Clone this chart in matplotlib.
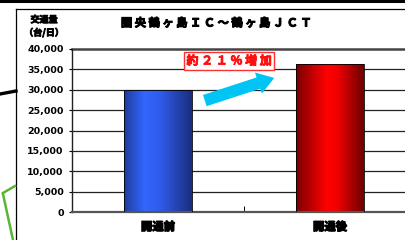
import numpy as np
import matplotlib
matplotlib.use("Agg")
import matplotlib.pyplot as plt
import matplotlib.patheffects as pe
from matplotlib.colors import LinearSegmentedColormap
from matplotlib.lines import Line2D

plt.rcParams['font.family'] = ['Noto Sans CJK JP', 'DejaVu Sans']

# data
categories = ['開通前', '開通後']
traffic = [29900, 36200]          # 台/日
y_ticks = [0, 5000, 10000, 15000, 20000, 25000, 30000, 35000, 40000]
title = '圏央鶴ヶ島ＩＣ～鶴ヶ島ＪＣＴ'
note = '約２１％増加'

fig = plt.figure(figsize=(4.06, 2.4), dpi=100)

# fake heavy weight for the CJK font
def heavy(c='black', w=0.6):
    return [pe.withStroke(linewidth=w, foreground=c)]

# slide decorations around the chart (figure pixel coords -> fraction)
W, H = 406, 240
def fx(p): return p / W
def fy(p): return 1 - p / H

fig.add_artist(Line2D([0, 1], [fy(1), fy(1)], color='black', lw=2.2))
fig.add_artist(Line2D([fx(16), 1], [fy(9), fy(9)], color='black', lw=0.9))
fig.add_artist(Line2D([fx(16), fx(16)], [fy(9), 0], color='black', lw=0.9))
fig.add_artist(Line2D([0, fx(16)], [fy(94), fy(91)], color='black', lw=2.4))
fig.add_artist(Line2D([fx(3), fx(15)], [fy(193), fy(186)], color='#5ab531', lw=1.8))
fig.add_artist(Line2D([fx(3), fx(13)], [fy(194), fy(240)], color='#5ab531', lw=1.8))

ax = fig.add_axes([fx(72), fy(212), 344 / W, 163 / H])

bars = ax.bar(range(len(categories)), traffic, width=0.395,
              edgecolor='black', linewidth=0.6, zorder=3)

blue = LinearSegmentedColormap.from_list(
    'b', [(0, '#1e3c9c'), (0.3, '#3366ff'), (0.55, '#2f5ae8'), (1, '#1a2e7e')])
red = LinearSegmentedColormap.from_list(
    'r', [(0, '#7a0000'), (0.45, '#ff0000'), (0.6, '#f20000'), (1, '#6e0000')])
grad = np.linspace(0, 1, 256).reshape(1, -1)
for bar, cmap in zip(bars, [blue, red]):
    x0, w, h = bar.get_x(), bar.get_width(), bar.get_height()
    im = ax.imshow(grad, cmap=cmap, aspect='auto', extent=[x0, x0 + w, 0, h],
                   zorder=2.5)
    im.set_clip_path(bar)
    bar.set_facecolor('none')
ax.set_xlim(-0.5, 1.5)
ax.set_ylim(0, 40000)

# grid
for v in y_ticks[1:-1]:
    ax.axhline(v, color='#222222', lw=0.9, zorder=1)
ax.axhline(40000, color='#444444', lw=1.8, zorder=1, clip_on=False)

for s in ['top', 'right']:
    ax.spines[s].set_visible(False)
ax.spines['left'].set_color('#222222')
ax.spines['left'].set_linewidth(1.0)
ax.spines['bottom'].set_color('#555555')
ax.spines['bottom'].set_linewidth(1.6)

ax.set_yticks(y_ticks)
ax.set_yticklabels([f'{v:,}' for v in y_ticks], family='DejaVu Sans',
                   fontweight='bold', fontsize=6.8)
ax.tick_params(axis='y', length=2, pad=4, width=0.8)

ax.set_xticks(range(len(categories)))
ax.set_xticklabels(categories, fontweight='bold', fontsize=8.2,
                   path_effects=heavy(w=0.75))
ax.tick_params(axis='x', length=0, pad=6)
ax.set_xticks([0.5], minor=True)
ax.tick_params(axis='x', which='minor', direction='in', length=4, width=0.7)

# titles
fig.text(fx(121), fy(23), ' '.join(title), fontsize=8.1, fontweight='bold',
         ha='left', va='center', path_effects=heavy(w=0.75))
fig.text(fx(44), fy(20), '交通量', fontsize=6.5, fontweight='bold',
         ha='center', va='center', path_effects=heavy(w=0.6))
fig.text(fx(44), fy(33), '（台/日）', fontsize=6.5, fontweight='bold',
         ha='center', va='center', path_effects=heavy(w=0.6))

# increase note and arrow
ax.text(0.413, 37050, ' '.join(note), color='#ff1010', fontsize=8.6,
        fontweight='bold', ha='center', va='center', zorder=5,
        path_effects=heavy('#ff1010', 0.6),
        bbox=dict(boxstyle='square,pad=0.18', fc='white', ec='#ff3030', lw=1.0))
ax.annotate('', xy=(0.676, 32900), xytext=(0.272, 27350),
            arrowprops=dict(arrowstyle='simple,head_width=1.6,head_length=1.2,tail_width=0.85',
                            fc='#00c4f4', ec='none', mutation_scale=10,
                            shrinkA=0, shrinkB=0), zorder=5)

fig.savefig('out.png', dpi=100)
